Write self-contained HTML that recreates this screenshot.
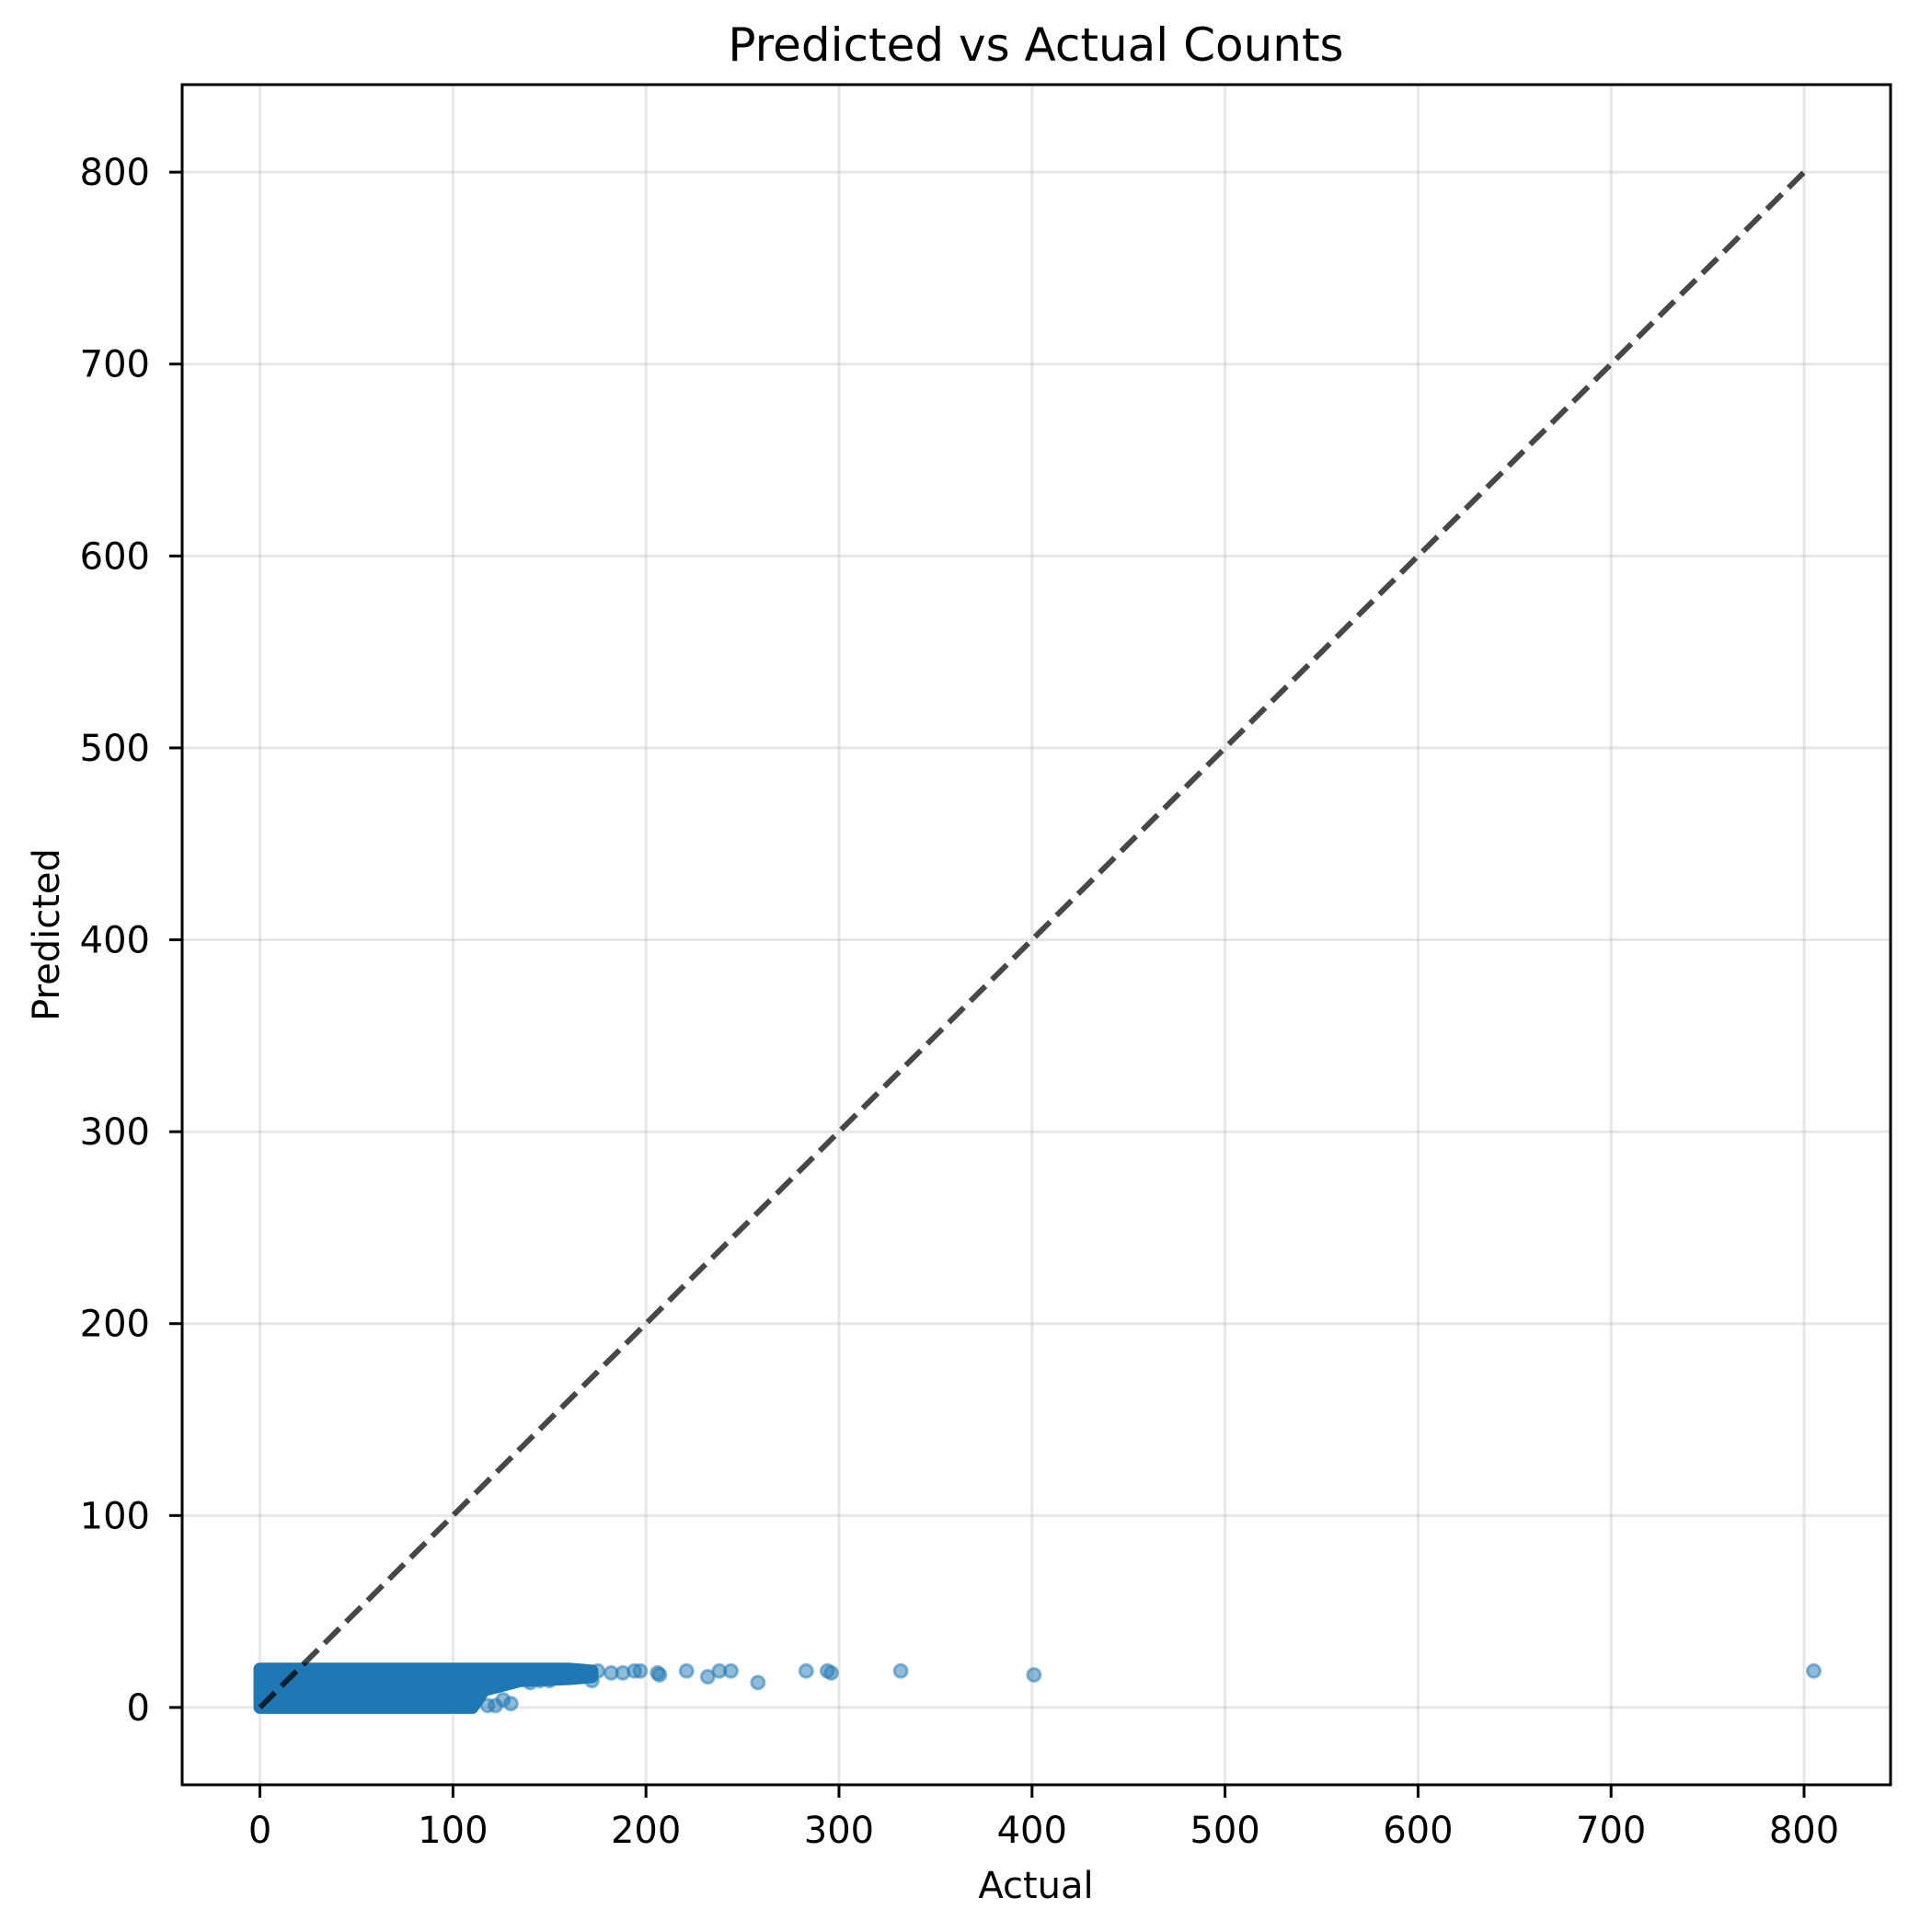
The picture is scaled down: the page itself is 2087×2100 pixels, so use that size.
<!DOCTYPE html>
<html><head><meta charset="utf-8"><style>
html,body{margin:0;padding:0;background:#fff;}
svg{display:block;font-family:"DejaVu Sans","Liberation Sans",sans-serif;}
</style></head><body>
<svg id="chart" width="2087" height="2100" viewBox="0 0 2087 2100">
<rect width="2087" height="2100" fill="#fff"/>
<g id="grid"></g>
<g id="marks"></g>
<rect x="198" y="92" width="1857" height="1848" fill="none" stroke="#000" stroke-width="3"/>
<g id="ticks"></g>
<text x="1126" y="66" font-size="50" text-anchor="middle">Predicted vs Actual Counts</text>
<text x="1126" y="2063" font-size="40" text-anchor="middle">Actual</text>
<text transform="translate(64,1016) rotate(-90)" font-size="40" text-anchor="middle">Predicted</text>
</svg>
<script>
const xTicks = [0,100,200,300,400,500,600,700,800];
const yTicks = [0,100,200,300,400,500,600,700,800];
// dense cluster envelope (actual values, predicted low/high)
const bandActual = [0, 90, 100, 110, 116, 135, 160, 172];
const bandLow = [0, 0, 0, 0, 9, 14, 15, 16];
const bandHigh = [20, 20, 20, 20, 20, 20, 20, 19];
// sparse points
const ptActual = [805,401,332,296,294,283,258,244,238,232,221,207,206,197,194,188,182,175,172,160,150,145,140,130,126,122,118,112,105,115,165,155];
const ptPred = [19,17,19,18,19,19,13,19,19,16,19,17,18,19,19,18,18,19,14,19,14,14,13,2,4,1,1,10,8,10,18,17];
const lineStart = 0, lineEnd = 802;

const NS = "http://www.w3.org/2000/svg";
const X0 = 198, X1 = 2055, Y0 = 1940, Y1 = 92;
const XMIN = -40.3, XMAX = 844.8, YMIN = -40.3, YMAX = 845.6;
function sx(v){ return X0 + (v - XMIN) / (XMAX - XMIN) * (X1 - X0); }
function sy(v){ return Y0 - (v - YMIN) / (YMAX - YMIN) * (Y0 - Y1); }
function mk(tag, attrs, parent){ const e = document.createElementNS(NS, tag); for (const k in attrs) e.setAttribute(k, attrs[k]); parent.appendChild(e); return e; }

const grid = document.getElementById('grid');
const ticks = document.getElementById('ticks');
const marks = document.getElementById('marks');

xTicks.forEach(t => {
  const x = sx(t);
  const g = mk('line', {x1:x, x2:x, y1:Y1, y2:Y0, stroke:'#b0b0b0', 'stroke-opacity':0.3, 'stroke-width':3}, grid);
  
  
  const tk = mk('line', {x1:x, x2:x, y1:Y0, y2:Y0+14, stroke:'#000', 'stroke-width':3}, ticks);
  
  
  const lb = mk('text', {x:x, y:2003, 'font-size':40, 'text-anchor':'middle'}, ticks);
  lb.textContent = t;
  
  
});
yTicks.forEach(t => {
  const y = sy(t);
  const g = mk('line', {x1:X0, x2:X1, y1:y, y2:y, stroke:'#b0b0b0', 'stroke-opacity':0.3, 'stroke-width':3}, grid);
  
  
  const tk = mk('line', {x1:X0-14, x2:X0, y1:y, y2:y, stroke:'#000', 'stroke-width':3}, ticks);
  
  
  const lb = mk('text', {x:163, y:y+14, 'font-size':40, 'text-anchor':'end'}, ticks);
  lb.textContent = t;
  
  
});

// dense band
let pts = [];
bandActual.forEach((a,i) => pts.push(sx(a)+','+sy(bandHigh[i])));
for (let i = bandActual.length-1; i >= 0; i--) pts.push(sx(bandActual[i])+','+sy(bandLow[i]));
const band = mk('polygon', {points: pts.join(' '), fill:'#1f77b4', stroke:'#1f77b4', 'stroke-width':14, 'stroke-linejoin':'round'}, marks);



ptActual.forEach((a,i) => {
  const c = mk('circle', {cx:sx(a), cy:sy(ptPred[i]), r:7, fill:'#1f77b4', 'fill-opacity':0.5, stroke:'#1f77b4', 'stroke-opacity':0.5, 'stroke-width':3}, marks);
  
  
});

const ln = mk('line', {x1:sx(lineStart), y1:sy(lineStart), x2:sx(lineEnd), y2:sy(lineEnd), stroke:'#000', 'stroke-opacity':0.72, 'stroke-width':6, 'stroke-dasharray':'23 10'}, marks);


</script>
</body></html>
